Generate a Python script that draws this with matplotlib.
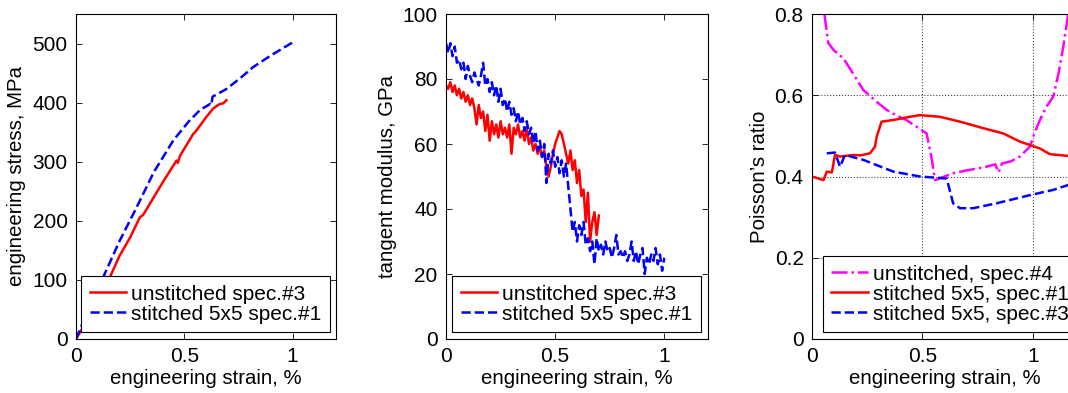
import numpy as np
import matplotlib
matplotlib.use("Agg")
from matplotlib import pyplot as plt

plt.rcParams["font.family"] = ["Liberation Sans", "DejaVu Sans"]
plt.rcParams["font.size"] = 15

# stress-strain
strain_u3 = [0, 0.05, 0.1, 0.157, 0.2, 0.25, 0.295, 0.31, 0.4, 0.464, 0.47, 0.48,
             0.541, 0.55, 0.6, 0.633, 0.66, 0.68, 0.694]
stress_u3 = [0, 30, 70, 105, 140, 172, 206, 210, 265, 302, 298, 310,
             347, 350, 375, 390, 397, 399, 404]
strain_s1 = [0, 0.04, 0.08, 0.126, 0.2, 0.28, 0.36, 0.449, 0.52, 0.571, 0.62,
             0.625, 0.63, 0.694, 0.76, 0.817, 0.9, 1.0]
stress_s1 = [0, 35, 65, 105, 165, 223, 283, 336, 368, 387, 398,
             396, 410, 423, 442, 460, 480, 502]

# tangent modulus, GPa (x in steps of 0.01 %)
tm_u3_y = [78, 77, 79, 76, 78, 75, 77, 74, 76, 73, 75, 72, 74, 71, 66, 72, 68,
           70, 64, 69, 61, 67, 63, 66, 62, 67, 63, 65, 62, 66, 57, 65, 63, 66,
           62, 64, 61, 65, 60, 62, 58, 60, 57, 59, 56, 58, 53, 50, 53, 57, 60,
           62, 64, 63, 60, 57, 54, 58, 52, 55, 48, 52, 44, 46, 36, 45, 30, 36,
           39, 32, 38]
tm_s1_y = [91, 88, 91, 87, 90, 85, 86, 83, 85, 80, 84, 81, 79, 82, 80, 78, 81,
           85, 78, 80, 76, 79, 75, 78, 73, 77, 72, 74, 70, 73, 69, 71, 67, 70,
           66, 68, 64, 67, 63, 65, 60, 64, 58, 61, 56, 60, 48, 57, 54, 58, 53,
           56, 51, 55, 50, 54, 47, 40, 33, 36, 30, 35, 32, 36, 29, 31, 27, 30,
           23, 31, 27, 29, 26, 30, 27, 28, 25, 28, 32, 26, 27, 25, 27, 24, 26,
           30, 24, 27, 23, 26, 28, 20, 25, 23, 26, 24, 28, 23, 26, 21, 25]
tm_u3_x = np.arange(len(tm_u3_y)) * 0.01
tm_s1_x = np.arange(len(tm_s1_y)) * 0.01

# Poisson's ratio
pr_u4_x = [0.056, 0.074, 0.1, 0.142, 0.19, 0.232, 0.29, 0.338, 0.39, 0.428, 0.48,
           0.519, 0.54, 0.557, 0.6, 0.639, 0.7, 0.79, 0.83, 0.845, 0.86, 0.9,
           0.941, 0.986, 1.01, 1.032, 1.06, 1.092, 1.115, 1.138, 1.16, 1.18]
pr_u4_y = [0.8, 0.728, 0.71, 0.691, 0.65, 0.613, 0.585, 0.564, 0.548, 0.539, 0.52,
           0.506, 0.45, 0.391, 0.4, 0.408, 0.415, 0.424, 0.43, 0.41, 0.432, 0.437,
           0.449, 0.473, 0.51, 0.539, 0.57, 0.596, 0.65, 0.72, 0.8, 0.86]
pr_s1_x = [0.0, 0.052, 0.067, 0.09, 0.104, 0.127, 0.187, 0.22, 0.262, 0.285,
           0.293, 0.315, 0.368, 0.443, 0.489, 0.579, 0.67, 0.775, 0.866, 0.941,
           1.032, 1.077, 1.152, 1.2]
pr_s1_y = [0.4, 0.391, 0.412, 0.41, 0.453, 0.449, 0.453, 0.452, 0.457, 0.473,
           0.498, 0.535, 0.539, 0.547, 0.551, 0.547, 0.535, 0.519, 0.506, 0.486,
           0.469, 0.455, 0.451, 0.45]
pr_s3_x = [0.067, 0.104, 0.127, 0.149, 0.232, 0.368, 0.489, 0.61, 0.639, 0.67,
           0.73, 0.835, 0.986, 1.092, 1.16, 1.2]
pr_s3_y = [0.457, 0.459, 0.424, 0.453, 0.441, 0.412, 0.4, 0.395, 0.334, 0.322,
           0.322, 0.334, 0.354, 0.367, 0.379, 0.385]

W, H = 1068, 393
fig = plt.figure(figsize=(W / 100, H / 100), dpi=100)


def px_axes(left, top, right, bottom):
    return fig.add_axes([left / W, 1 - bottom / H, (right - left) / W, (bottom - top) / H])


def style(ax):
    ax.tick_params(direction="in", top=True, right=True, length=4, width=0.6,
                   labelsize=15, pad=6)
    for s in ax.spines.values():
        s.set_linewidth(0.8)


ax1 = px_axes(76, 14, 336, 339)
ax1.plot(strain_u3, stress_u3, color="red", lw=1.8, label="unstitched spec.#3")
ax1.plot(strain_s1, stress_s1, color="blue", lw=1.8, ls="--", label="stitched 5x5 spec.#1")
ax1.set_xlim(0, 1.2)
ax1.set_ylim(0, 550)
ax1.set_xticks([0, 0.5, 1])
ax1.set_xticklabels(["0", "0.5", "1"])
ax1.set_yticks([0, 100, 200, 300, 400, 500])
ax1.set_xlabel("engineering strain, %", fontsize=14.7, labelpad=2)
ax1.set_ylabel("engineering stress, MPa", fontsize=14.7, labelpad=5)
style(ax1)

ax2 = px_axes(446, 14, 708, 339)
ax2.plot(tm_u3_x, tm_u3_y, color="red", lw=1.8, label="unstitched spec.#3")
ax2.plot(tm_s1_x, tm_s1_y, color="blue", lw=1.8, ls="--", label="stitched 5x5 spec.#1")
ax2.set_xlim(0, 1.2)
ax2.set_ylim(0, 100)
ax2.set_xticks([0, 0.5, 1])
ax2.set_xticklabels(["0", "0.5", "1"])
ax2.set_yticks([0, 20, 40, 60, 80, 100])
ax2.set_xlabel("engineering strain, %", fontsize=14.7, labelpad=2)
ax2.set_ylabel("tangent modulus, GPa", fontsize=14.7, labelpad=4)
style(ax2)

ax3 = px_axes(812, 14, 1077, 339)
ax3.plot(pr_u4_x, pr_u4_y, color="magenta", lw=1.8, ls="-.", label="unstitched, spec.#4")
ax3.plot(pr_s1_x, pr_s1_y, color="red", lw=1.8, label="stitched 5x5, spec.#1")
ax3.plot(pr_s3_x, pr_s3_y, color="blue", lw=1.8, ls="--", label="stitched 5x5, spec.#3")
ax3.set_xlim(0, 1.2)
ax3.set_ylim(0, 0.8)
ax3.set_xticks([0, 0.5, 1])
ax3.set_xticklabels(["0", "0.5", "1"])
ax3.set_yticks([0, 0.2, 0.4, 0.6, 0.8])
ax3.set_yticklabels(["0", "0.2", "0.4", "0.6", "0.8"])
ax3.grid(True, ls=":", color="#444444", lw=0.8)
ax3.set_xlabel("engineering strain, %", fontsize=14.7, labelpad=2)
ax3.set_ylabel("Poisson\u2019s ratio", fontsize=14.7, labelpad=4)
style(ax3)

leg_kw = dict(fontsize=15, fancybox=False, edgecolor="black", framealpha=1,
              handlelength=1.75, handletextpad=0.25, borderaxespad=0,
              labelspacing=0.05, borderpad=0.4)
for ax, anchor, loc in [(ax1, (0.977, 0.0215), "lower right"),
                        (ax2, (0.973, 0.0215), "lower right"),
                        (ax3, (0.0415, 0.0215), "lower left")]:
    leg = ax.legend(loc=loc, bbox_to_anchor=anchor, **leg_kw)
    leg.get_frame().set_linewidth(0.8)

fig.savefig("out.png", dpi=100)
